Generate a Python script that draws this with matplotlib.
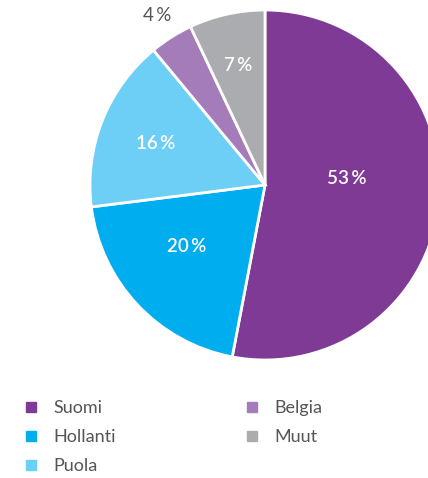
import numpy as np
import matplotlib.pyplot as plt
from matplotlib.lines import Line2D

plt.rcParams['font.family'] = ['Lato', 'DejaVu Sans']

# Data
maat = ['Suomi', 'Hollanti', 'Puola', 'Belgia', 'Muut']
osuudet = [53, 20, 16, 4, 7]
varit = ['#7f3a96', '#00aeef', '#6dcff6', '#a57cba', '#abacaf']

# label placement: distance from centre, angle nudge (deg), text colour
etaisyys = [0.47, 0.57, 0.67, 1.15, 0.70]
kaanto = [10, -5, 1, 0, 0]
tekstivari = ['white', 'white', 'white', '#555555', 'white']

W, H = 428, 478
fig = plt.figure(figsize=(W / 100, H / 100), dpi=100)

# pie centre ~ (265, 185) px, radius ~175 px
cx, cy, r = 265, 185, 175
ax = fig.add_axes([(cx - r) / W, (H - cy - r) / H, 2 * r / W, 2 * r / H])
wedges, _ = ax.pie(osuudet, colors=varit, startangle=90, counterclock=False,
                   wedgeprops=dict(edgecolor='white', linewidth=2))
ax.set_xlim(-1, 1)
ax.set_ylim(-1, 1)
ax.set_aspect('equal')
ax.axis('off')

for w, p, d, k, c in zip(wedges, osuudet, etaisyys, kaanto, tekstivari):
    a = np.deg2rad((w.theta1 + w.theta2) / 2 + k)
    ax.text(d * np.cos(a), d * np.sin(a), f'{p}\u2009%', ha='center', va='center',
            color=c, fontsize=13.5, fontweight='semibold' if c == 'white' else 'normal')

# legend
handles = [Line2D([], [], marker='s', linestyle='none', markersize=7,
                  markerfacecolor=v, markeredgecolor=v) for v in varit]
fig.legend(handles, maat, ncol=2, loc='upper left', bbox_to_anchor=(24 / W, 1 - 400 / H),
           frameon=False, fontsize=13, labelcolor='#555555', handlelength=0.8,
           handletextpad=0.82, columnspacing=7.15, labelspacing=0.72,
           borderpad=0, borderaxespad=0)

plt.savefig('out.png', dpi=100)
